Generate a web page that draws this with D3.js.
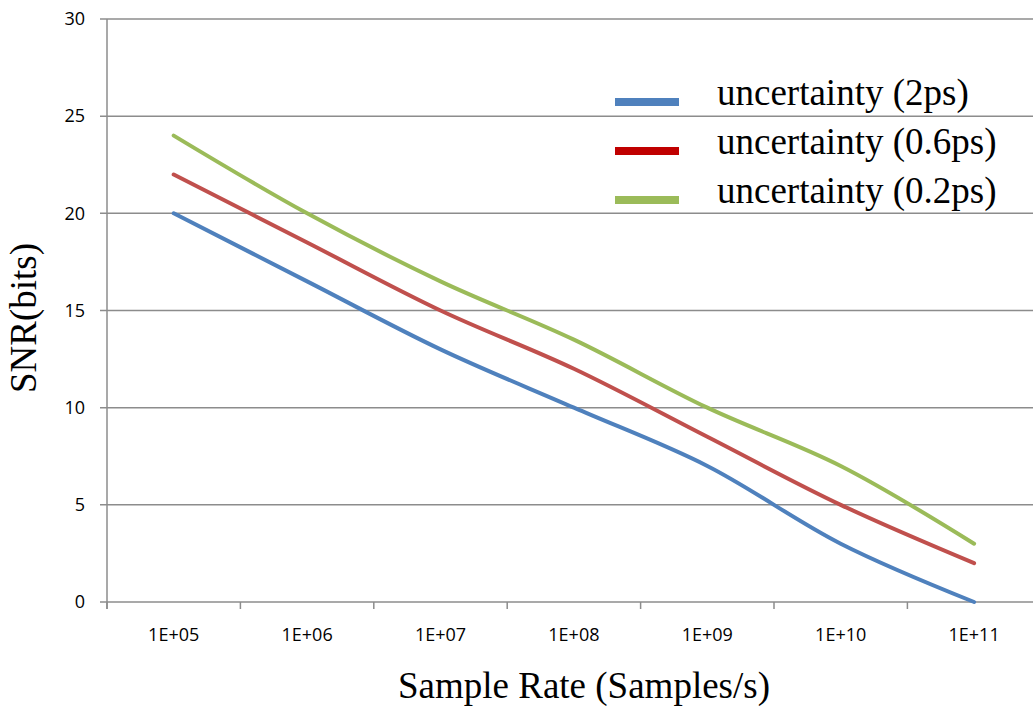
<!DOCTYPE html>
<html>
<head>
<meta charset="utf-8">
<script src="https://cdn.jsdelivr.net/npm/d3@7"></script>
<style>
  body { margin: 0; background: #fff; }
  svg { display: block; }
</style>
</head>
<body>
<div id="chart"></div>
<script>
// data
var categories = ['1E+05', '1E+06', '1E+07', '1E+08', '1E+09', '1E+10', '1E+11'];
var snr2ps  = [20, 16.5, 13, 10, 7, 3, 0];
var snr06ps = [22, 18.5, 15, 12, 8.5, 5, 2];
var snr02ps = [24, 20, 16.5, 13.5, 10, 7, 3];
var seriesNames = ['uncertainty (2ps)', 'uncertainty (0.6ps)', 'uncertainty (0.2ps)'];
var yTicks = [0, 5, 10, 15, 20, 25, 30];

var lineColors = ['#4F81BD', '#C0504D', '#9BBB59'];
var keyColors = ['#4F81BD', '#C00000', '#9BBB59'];

var width = 1033, height = 706;
var plotLeft = 107, plotTop = 19, plotBottom = 602;
var plotRight = plotLeft + 7 * 133.4; // last column runs off the picture

var svg = d3.select('#chart').append('svg')
	.attr('width', width)
	.attr('height', height);

var x = d3.scaleBand()
	.domain(categories)
	.range([plotLeft, plotRight]);

var y = d3.scaleLinear()
	.domain([0, 30])
	.range([plotBottom, plotTop]);

// gridlines
svg.append('g')
	.selectAll('line')
	.data(yTicks)
	.enter().append('line')
	.attr('x1', plotLeft - 7)
	.attr('x2', width)
	.attr('y1', function(d){ return y(d); })
	.attr('y2', function(d){ return y(d); })
	.attr('stroke', '#8c8c8c')
	.attr('stroke-width', 1.5);

// y axis line
svg.append('line')
	.attr('x1', plotLeft).attr('x2', plotLeft)
	.attr('y1', plotTop).attr('y2', plotBottom + 7)
	.attr('stroke', '#8c8c8c')
	.attr('stroke-width', 1.5);

// x category ticks
var tickPos = d3.range(categories.length + 1).map(function(i){ return plotLeft + i * x.bandwidth(); });
svg.append('g')
	.selectAll('line')
	.data(tickPos)
	.enter().append('line')
	.attr('x1', function(d){ return d; })
	.attr('x2', function(d){ return d; })
	.attr('y1', plotBottom)
	.attr('y2', plotBottom + 7)
	.attr('stroke', '#8c8c8c')
	.attr('stroke-width', 1.5);

// y tick labels
svg.append('g')
	.selectAll('text')
	.data(yTicks)
	.enter().append('text')
	.attr('x', plotLeft - 22)
	.attr('y', function(d){ return y(d); })
	.attr('dy', '0.35em')
	.attr('text-anchor', 'end')
	.attr('font-family', 'Open Sans, sans-serif')
	.attr('font-size', 18)
	.attr('fill', '#000')
	.text(function(d){ return d; });

// x tick labels
svg.append('g')
	.selectAll('text')
	.data(categories)
	.enter().append('text')
	.attr('x', function(d){ return x(d) + x.bandwidth() / 2; })
	.attr('y', 635)
	.attr('dy', '0.35em')
	.attr('text-anchor', 'middle')
	.attr('font-family', 'Open Sans, sans-serif')
	.attr('font-size', 18)
	.attr('fill', '#000')
	.text(function(d){ return d; });

// axis titles
svg.append('text')
	.attr('x', 584)
	.attr('y', 698)
	.attr('text-anchor', 'middle')
	.attr('font-family', 'Liberation Serif, serif')
	.attr('font-size', 37)
	.text('Sample Rate (Samples/s)');

svg.append('text')
	.attr('transform', 'translate(36,318) rotate(-90)')
	.attr('text-anchor', 'middle')
	.attr('font-family', 'Liberation Serif, serif')
	.attr('font-size', 37)
	.text('SNR(bits)');

// lines
var allSeries = [snr2ps, snr06ps, snr02ps];
var line = d3.line()
	.x(function(d, i){ return x(categories[i]) + x.bandwidth() / 2; })
	.y(function(d){ return y(d); })
	.curve(d3.curveCatmullRom.alpha(0.5));

svg.append('g')
	.selectAll('path')
	.data(allSeries)
	.enter().append('path')
	.attr('d', line)
	.attr('fill', 'none')
	.attr('stroke', function(d, i){ return lineColors[i]; })
	.attr('stroke-width', 4)
	.attr('stroke-linecap', 'round');

// legend
var key = svg.append('g')
	.selectAll('g')
	.data(seriesNames)
	.enter().append('g')
	.attr('transform', function(d, i){ return 'translate(0,' + (102 + i * 49) + ')'; });

key.append('line')
	.attr('x1', 615).attr('x2', 679)
	.attr('y1', 0).attr('y2', 0)
	.attr('stroke', function(d, i){ return keyColors[i]; })
	.attr('stroke-width', 8);

key.append('text')
	.attr('x', 717)
	.attr('y', 3)
	.attr('font-family', 'Liberation Serif, serif')
	.attr('font-size', 37)
	.text(function(d){ return d; });
</script>
</body>
</html>
